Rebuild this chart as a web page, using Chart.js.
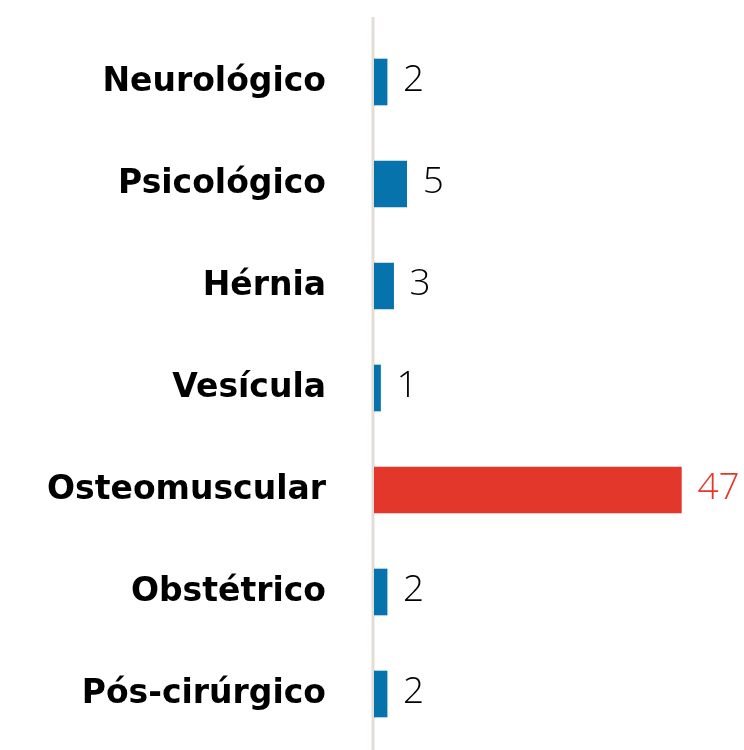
<!DOCTYPE html>
<html><head><meta charset="utf-8">
<script src="https://cdn.jsdelivr.net/npm/chart.js@4/dist/chart.umd.min.js"></script>
<style>html,body{margin:0;padding:0;background:#fff}#wrap{width:744px;height:750px;position:relative}</style>
</head><body><div id="wrap"><canvas id="c" width="744" height="750"></canvas></div>
<script>
const categories = ["Neurológico","Psicológico","Hérnia","Vesícula","Osteomuscular","Obstétrico","Pós-cirúrgico"];
const values = [2,5,3,1,47,2,2];
const highlight = ["Osteomuscular"];

const BLUE = "#0673ad", RED = "#e4372b";
const barColors = categories.map(c => highlight.includes(c) ? RED : BLUE);
const labelColors = categories.map(c => highlight.includes(c) ? RED : "#000000");

const axisLine = {
  id: 'axisLine',
  beforeDatasetsDraw(chart) {
    const {ctx} = chart; const x = chart.scales.x.getPixelForValue(0);
    ctx.save(); ctx.strokeStyle = '#e2ded6'; ctx.lineWidth = 3;
    ctx.beginPath(); ctx.moveTo(x - 1, 17); ctx.lineTo(x - 1, 750); ctx.stroke(); ctx.restore();
  }
};
const valueLabels = {
  id: 'valueLabels',
  afterDatasetsDraw(chart) {
    const {ctx} = chart; const meta = chart.getDatasetMeta(0);
    ctx.save();
    ctx.font = '300 37px "Open Sans"';
    ctx.textBaseline = 'middle'; ctx.textAlign = 'left';
    meta.data.forEach((bar, i) => {
      ctx.fillStyle = labelColors[i];
      ctx.fillText(String(values[i]), bar.x + 16, bar.y - 2);
    });
    ctx.restore();
  }
};

new Chart(document.getElementById('c'), {
  type: 'bar',
  data: { labels: categories, datasets: [{ data: values, backgroundColor: barColors, barThickness: 46, borderWidth: 0 }] },
  options: {
    indexAxis: 'y', responsive: false, animation: false,
    layout: { autoPadding: false, padding: { top: 31, bottom: 5, right: 43, left: 0 } },
    plugins: { legend: { display: false }, tooltip: { enabled: false } },
    scales: {
      x: { min: 0, max: 50, display: false, grid: { display: false } },
      y: {
        grid: { display: false, drawTicks: false }, border: { display: false },
        ticks: { padding: 48, color: '#000', font: { family: '"DejaVu Sans"', weight: 'bold', size: 33 } },
        afterFit(scale) { scale.width = 374; scale.paddingTop = 0; scale.paddingBottom = 0; }
      }
    }
  },
  plugins: [axisLine, valueLabels]
});
</script></body></html>
